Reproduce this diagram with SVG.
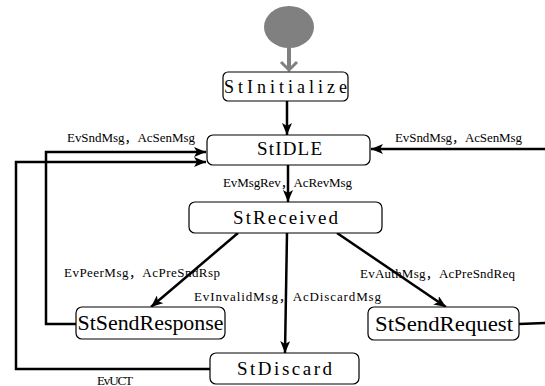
<svg xmlns="http://www.w3.org/2000/svg" width="545" height="386" viewBox="0 0 545 386">
  <style>
    .box { fill: #ffffff; stroke: #000000; stroke-width: 1.2; }
    .name { font-family: "Liberation Serif", "Noto Sans CJK SC", serif; font-size: 19px; fill: #000000; text-anchor: middle; dominant-baseline: central; }
    .lbl { font-family: "Liberation Serif", "Noto Sans CJK SC", serif; font-size: 13px; fill: #000000; dominant-baseline: central; }
    .edge { fill: none; stroke: #000000; stroke-width: 2.5; }
  </style>
  <defs>
    <marker id="arrow" markerUnits="userSpaceOnUse" markerWidth="14" markerHeight="10" refX="12" refY="5" orient="auto">
      <path d="M0,0 L12,5 L0,10 L3,5 z" fill="#000000"/>
    </marker>
  </defs>
  <rect width="545" height="386" fill="#ffffff"/>

  <!-- initial pseudo-state -->
  <g id="start">
    <ellipse cx="289" cy="27" rx="25" ry="21" fill="#808080"/>
    <line x1="289" y1="46" x2="289" y2="70" stroke="#808080" stroke-width="4"/>
    <polyline points="281,62 289,70 297,62" fill="none" stroke="#808080" stroke-width="3"/>
  </g>

  <!-- transitions -->
  <g id="connectors">
    <line class="edge" x1="287" y1="101" x2="287" y2="135" marker-end="url(#arrow)"/>
    <line class="edge" x1="288" y1="165" x2="288" y2="202" marker-end="url(#arrow)"/>
    <polyline class="edge" points="76,324 46,324 46,152 206,152" marker-end="url(#arrow)"/>
    <polyline class="edge" points="210,369 16,369 16,162 206,162" marker-end="url(#arrow)"/>
    <line class="edge" x1="545" y1="149" x2="371" y2="149" marker-end="url(#arrow)"/>
    <line class="edge" x1="519" y1="324" x2="545" y2="323"/>
    <line class="edge" x1="238" y1="233" x2="151" y2="307" marker-end="url(#arrow)"/>
    <line class="edge" x1="287" y1="233" x2="285" y2="353" marker-end="url(#arrow)"/>
    <line class="edge" x1="337" y1="233" x2="446" y2="307" marker-end="url(#arrow)"/>
  </g>

  <!-- transition labels -->
  <g id="labels">
    <text class="lbl" x="67" y="137" textLength="128" lengthAdjust="spacing">EvSndMsg，AcSenMsg</text>
    <text class="lbl" x="395" y="137" textLength="127" lengthAdjust="spacing">EvSndMsg，AcSenMsg</text>
    <text class="lbl" x="223" y="182" textLength="129" lengthAdjust="spacing">EvMsgRev，AcRevMsg</text>
    <text class="lbl" x="64" y="272" textLength="156" lengthAdjust="spacing">EvPeerMsg，AcPreSndRsp</text>
    <text class="lbl" x="360" y="273" textLength="155" lengthAdjust="spacing">EvAuthMsg，AcPreSndReq</text>
    <text class="lbl" x="194" y="296" textLength="187" lengthAdjust="spacing">EvInvalidMsg，AcDiscardMsg</text>
    <text class="lbl" x="97" y="380" textLength="36" lengthAdjust="spacing">EvUCT</text>
  </g>

  <!-- states -->
  <g id="StInitialize">
    <rect class="box" x="223" y="72" width="125" height="29" rx="5"/>
    <text class="name" x="285.5" y="87" style="font-size:18px" textLength="123" lengthAdjust="spacing">StInitialize</text>
  </g>
  <g id="StIDLE">
    <rect class="box" x="207" y="135" width="163" height="30" rx="6"/>
    <text class="name" x="289.5" y="148" textLength="65" lengthAdjust="spacing">StIDLE</text>
  </g>
  <g id="StReceived">
    <rect class="box" x="189" y="202" width="193" height="31" rx="6"/>
    <text class="name" x="285.5" y="217" textLength="105" lengthAdjust="spacing">StReceived</text>
  </g>
  <g id="StSendResponse">
    <rect class="box" x="76" y="307" width="149" height="32" rx="6"/>
    <text class="name" x="150.5" y="323" style="font-size:21px" textLength="146" lengthAdjust="spacingAndGlyphs">StSendResponse</text>
  </g>
  <g id="StSendRequest">
    <rect class="box" x="368" y="307" width="151" height="33" rx="6"/>
    <text class="name" x="444" y="323.5" style="font-size:21px" textLength="138" lengthAdjust="spacingAndGlyphs">StSendRequest</text>
  </g>
  <g id="StDiscard">
    <rect class="box" x="210" y="353" width="149" height="31" rx="6"/>
    <text class="name" x="284.5" y="368" textLength="95" lengthAdjust="spacing">StDiscard</text>
  </g>
</svg>
